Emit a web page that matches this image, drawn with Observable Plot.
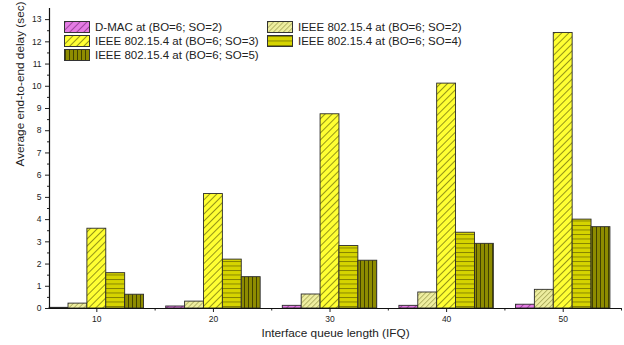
<!DOCTYPE html>
<html><head><meta charset="utf-8">
<script src="https://cdn.jsdelivr.net/npm/d3@7"></script>
<script src="https://cdn.jsdelivr.net/npm/@observablehq/plot@0.6"></script>
<style>
body{margin:0;background:#fff;font-family:"Liberation Sans",Arial,sans-serif;}
#wrap{position:relative;width:624px;height:345px;}
.leg{position:absolute;font-size:11.5px;color:#222;display:flex;align-items:center;white-space:nowrap;height:12px;}
.sw{width:24px;height:10px;border:1px solid #333;margin-right:5px;flex:none;}
</style></head><body>
<svg width="0" height="0" style="position:absolute">
<defs>
  <pattern id="p0" patternUnits="userSpaceOnUse" width="5" height="5" patternTransform="rotate(45)">
    <rect width="5" height="5" fill="#e47ce4"/>
    <line x1="0.5" y1="0" x2="0.5" y2="5" stroke="#8e3a8e" stroke-width="0.8"/>
  </pattern>
  <pattern id="p1" patternUnits="userSpaceOnUse" width="3.5" height="3.5" patternTransform="rotate(45)">
    <rect width="3.5" height="3.5" fill="#eeeea0"/>
    <line x1="0.5" y1="0" x2="0.5" y2="3.5" stroke="#9a9a4a" stroke-width="0.7"/>
  </pattern>
  <pattern id="p2" patternUnits="userSpaceOnUse" width="5" height="5" patternTransform="rotate(45)">
    <rect width="5" height="5" fill="#ffff33"/>
    <line x1="0.5" y1="0" x2="0.5" y2="5" stroke="#7a7a10" stroke-width="0.8"/>
  </pattern>
  <pattern id="p3" patternUnits="userSpaceOnUse" width="6" height="4.5">
    <rect width="6" height="4.5" fill="#d6d400"/>
    <line x1="0" y1="0.5" x2="6" y2="0.5" stroke="#6e6c00" stroke-width="0.8"/>
  </pattern>
  <pattern id="p4" patternUnits="userSpaceOnUse" width="4" height="6">
    <rect width="4" height="6" fill="#8e8c00"/>
    <line x1="0.5" y1="0" x2="0.5" y2="6" stroke="#3a3a00" stroke-width="0.9"/>
  </pattern>
</defs>
</svg>
<div id="wrap"></div>
<script>
// ---- data ----
const ifq = [10, 20, 30, 40, 50];
const seriesNames = [
  "D-MAC at (BO=6; SO=2)",
  "IEEE 802.15.4 at (BO=6; SO=2)",
  "IEEE 802.15.4 at (BO=6; SO=3)",
  "IEEE 802.15.4 at (BO=6; SO=4)",
  "IEEE 802.15.4 at (BO=6; SO=5)"
];
const dmacSO2 = [0.03, 0.09, 0.12, 0.12, 0.17];
const ieeeSO2 = [0.22, 0.31, 0.63, 0.72, 0.84];
const ieeeSO3 = [3.59, 5.15, 8.74, 10.12, 12.40];
const ieeeSO4 = [1.59, 2.20, 2.81, 3.41, 4.00];
const ieeeSO5 = [0.62, 1.41, 2.15, 2.91, 3.66];
const yTicks = [0,1,2,3,4,5,6,7,8,9,10,11,12,13];
const xTicks = [10, 20, 30, 40, 50];
const xTitle = "Interface queue length (IFQ)";
const yTitle = "Average end-to-end delay (sec)";

// ---- build table ----
const seriesValues = [dmacSO2, ieeeSO2, ieeeSO3, ieeeSO4, ieeeSO5];
const fills = ["url(#p0)", "url(#p1)", "url(#p2)", "url(#p3)", "url(#p4)"];
const w = 1.62; // bar width in x units
const rows = [];
seriesValues.forEach((vals, s) => {
  vals.forEach((v, i) => {
    const x1 = ifq[i] + (s - 2.5) * w;
    rows.push({series: seriesNames[s], s, ifq: ifq[i], value: v, x1, x2: x1 + w, fill: fills[s]});
  });
});
const xMin = 5.94, xMax = 55, yMax = 13.5;
const minorX = xTicks.map(t => t + 5);
const minorY = d3.range(0.5, 13.5, 1);

const chart = Plot.plot({
  width: 624, height: 345,
  marginLeft: 49, marginRight: 3, marginTop: 8, marginBottom: 37,
  style: {fontFamily: "Liberation Sans, Arial, sans-serif", color: "#222", background: "white"},
  x: {domain: [xMin, xMax], axis: null},
  y: {domain: [0, yMax], axis: null},
  color: {type: "identity"},
  marks: [
    Plot.rectY(rows, {x1: "x1", x2: "x2", y1: 0, y2: "value", fill: "fill", stroke: "#2a2a2a", strokeWidth: 0.9}),
    Plot.axisY({ticks: yTicks, tickSize: 4, tickPadding: 4, fontSize: 8.5, color: "#222", label: null}),
    Plot.axisY({ticks: minorY, tickSize: 2, text: null, color: "#222", label: null}),
    Plot.axisX({ticks: xTicks, tickSize: 4, tickPadding: 3, fontSize: 8.5, color: "#222", label: null}),
    Plot.axisX({ticks: minorX, tickSize: 2.5, text: null, color: "#222", label: null}),
    Plot.ruleX([xMin], {stroke: "#111", strokeWidth: 1.2}),
    Plot.ruleY([0], {stroke: "#111", strokeWidth: 1.2}),
    Plot.text([xTitle], {frameAnchor: "bottom", dy: 28, fontSize: 11.8, fill: "#222"}),
    Plot.text([yTitle], {frameAnchor: "left", dx: -29, dy: 8, rotate: -90, fontSize: 11.8, fill: "#222"})
  ]
});
const wrap = document.getElementById("wrap");
wrap.appendChild(chart);

// ---- legend ----
const legPos = [[64, 21], [267, 21], [64, 35], [267, 35], [64, 48.5]];
seriesNames.forEach((name, s) => {
  const d = document.createElement("div");
  d.className = "leg";
  d.style.left = legPos[s][0] + "px";
  d.style.top = legPos[s][1] + "px";
  d.innerHTML = `<svg class="sw" width="24" height="10" style="border:1px solid #333;margin-right:5px;width:24px;height:10px;box-sizing:content-box"><rect width="24" height="10" fill="${fills[s]}"/></svg><span>${name}</span>`;
  wrap.appendChild(d);
});
</script>
</body></html>
